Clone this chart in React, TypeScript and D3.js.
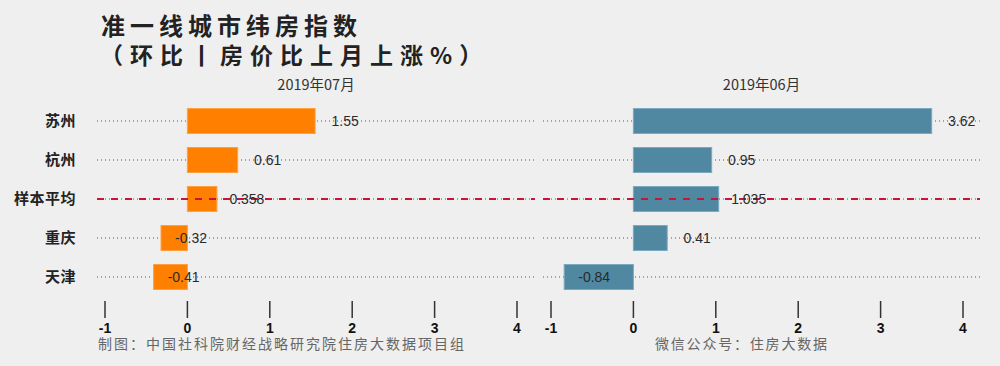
import React from 'react';
import * as d3 from 'd3';

// 城市及指数（环比，%）
const cities = ['苏州', '杭州', '样本平均', '重庆', '天津'];
const july = [1.55, 0.61, 0.358, -0.32, -0.41];
const june = [3.62, 0.95, 1.035, 0.41, -0.84];
const tickValues = [-1, 0, 1, 2, 3, 4];
const avgName = '样本平均';

const W = 1000;
const H = 366;
const cjk = '"Noto Sans CJK SC", "Noto Sans", sans-serif';
const latin = '"Liberation Sans", Arial, sans-serif';

interface PanelProps {
  title: string;
  values: number[];
  color: string;
  stroke: string;
  range: [number, number];
  gridX: [number, number];
}

const yScale = d3.scalePoint<string>().domain(cities).range([121, 277]);
const barH = 25;

const Panel: React.FC<PanelProps> = ({ title, values, color, stroke, range, gridX }) => {
  const x = d3.scaleLinear().domain([-1, 4]).range(range);
  const x0 = x(0);
  const nudge = 30;

  return (
    <g>
      <text
        x={(gridX[0] + gridX[1]) / 2}
        y={90}
        textAnchor="middle"
        fontFamily={cjk}
        fontSize={14.5}
        fill="#333"
      >
        {title}
      </text>

      {/* dotted guide lines behind bars */}
      {cities.map(c => (
        <line
          key={'g' + c}
          x1={gridX[0]}
          x2={gridX[1]}
          y1={yScale(c)}
          y2={yScale(c)}
          stroke="#555"
          strokeWidth={1}
          strokeDasharray="1,3"
        />
      ))}

      {/* bars */}
      {cities.map((c, i) => {
        const v = values[i];
        return (
          <rect
            key={'b' + c}
            x={Math.min(x0, x(v))}
            y={(yScale(c) as number) - barH / 2}
            width={Math.abs(x(v) - x0)}
            height={barH}
            fill={color}
            stroke={stroke}
            strokeWidth={1}
          />
        );
      })}

      {/* average line on top */}
      <line
        x1={gridX[0]}
        x2={gridX[1]}
        y1={yScale(avgName)}
        y2={yScale(avgName)}
        stroke="#cc1236"
        strokeWidth={2}
        strokeDasharray="7,7"
      />

      {/* value labels */}
      {cities.map((c, i) => (
        <text
          key={'v' + c}
          x={x(values[i]) + nudge}
          y={(yScale(c) as number) + 5}
          textAnchor="middle"
          fontFamily={latin}
          fontSize={14}
          fill="#2a2a2a"
        >
          {String(values[i])}
        </text>
      ))}

      {/* ticks */}
      {tickValues.map(t => (
        <g key={'t' + t}>
          <line x1={x(t)} x2={x(t)} y1={301} y2={318} stroke="#333" strokeWidth={1.5} />
          <text
            x={x(t)}
            y={333}
            textAnchor="middle"
            fontFamily={latin}
            fontWeight="bold"
            fontSize={14}
            fill="#111"
          >
            {t}
          </text>
        </g>
      ))}
    </g>
  );
};

const App: React.FC = () => {
  return (
    <svg
      width={W}
      height={H}
      style={{ position: 'absolute', left: 0, top: 0, display: 'block' }}
    >
      <rect x={0} y={0} width={W} height={H} fill="#efefef" />

      <text
        x={101}
        y={35}
        fontFamily={cjk}
        fontWeight="bold"
        fontSize={24}
        letterSpacing={5}
        fill="#222"
      >
        准一线城市纬房指数
      </text>
      <text
        x={100}
        y={64}
        fontFamily={cjk}
        fontWeight="bold"
        fontSize={23}
        letterSpacing={7}
        fill="#222"
      >
        （环比丨房价比上月上涨%）
      </text>

      {cities.map(c => (
        <text
          key={'c' + c}
          x={76}
          y={(yScale(c) as number) + 5}
          textAnchor="end"
          fontFamily={cjk}
          fontWeight="bold"
          fontSize={15}
          letterSpacing={0.5}
          fill="#222"
        >
          {c}
        </text>
      ))}

      <Panel
        title="2019年07月"
        values={july}
        color="#ff8000"
        stroke="#ffa040"
        range={[105, 517]}
        gridX={[97, 535]}
      />
      <Panel
        title="2019年06月"
        values={june}
        color="#5088a1"
        stroke="#7aaac0"
        range={[551, 963]}
        gridX={[543, 980]}
      />

      <text x={98} y={349} fontFamily={cjk} fontSize={14} letterSpacing={2} fill="#666">
        制图：中国社科院财经战略研究院住房大数据项目组
      </text>
      <text x={655} y={349} fontFamily={cjk} fontSize={14} letterSpacing={1.8} fill="#666">
        微信公众号：住房大数据
      </text>
    </svg>
  );
};

export default App;
